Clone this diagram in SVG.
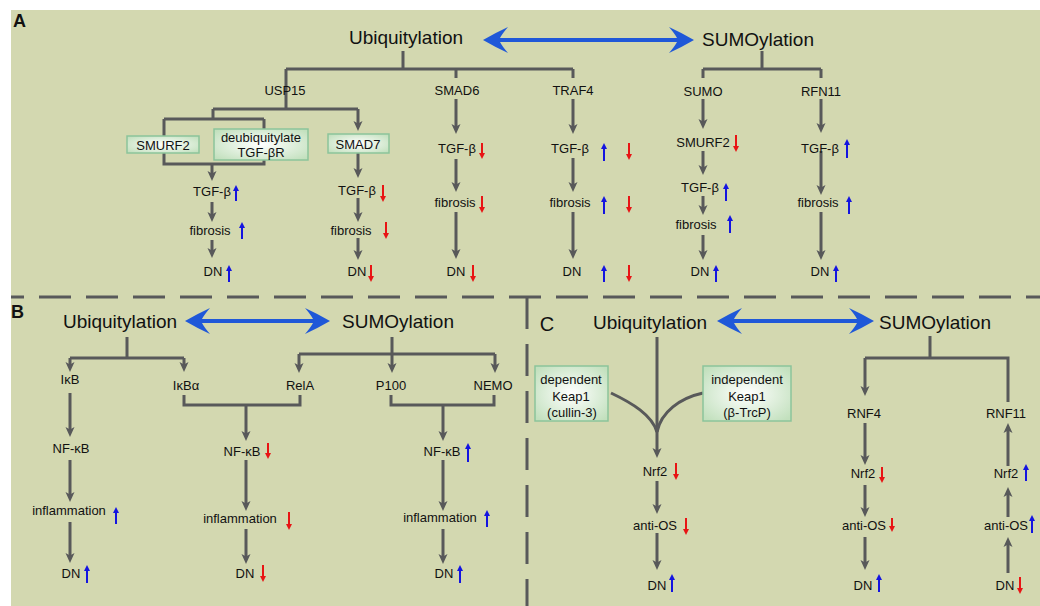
<svg xmlns="http://www.w3.org/2000/svg" width="1040" height="606" viewBox="0 0 1040 606">
<defs>
<style>
.t{font-family:"Liberation Sans",Arial,sans-serif;font-size:13px;fill:#111;text-anchor:middle}
.h{font-family:"Liberation Sans",Arial,sans-serif;font-size:19px;fill:#111;text-anchor:middle}
.lb{font-family:"Liberation Sans",Arial,sans-serif;font-size:18px;font-weight:bold;fill:#111}
.g{stroke:#58595a;stroke-width:3;fill:none}
.a{stroke:#58595a;stroke-width:3;fill:none;marker-end:url(#ah)}
.u{stroke:#1414e0;stroke-width:2;marker-end:url(#ub)}
.d{stroke:#e81414;stroke-width:2;marker-end:url(#dr)}
.bx{fill:url(#gb);stroke:#8cc49a;stroke-width:1.5}
.ba{fill:#1f58d8}
.dash{stroke:#58595a;stroke-width:3;fill:none;stroke-dasharray:32 15}
</style>
<radialGradient id="gb" cx="50%" cy="50%" r="65%">
<stop offset="0" stop-color="#ffffff"/>
<stop offset="1" stop-color="#c2e0bd"/>
</radialGradient>
<marker id="ah" viewBox="0 0 10 10" refX="4" refY="5" markerWidth="10" markerHeight="10" markerUnits="userSpaceOnUse" orient="auto">
<path d="M0,0.5 L10,5 L0,9.5 L2.5,5 Z" fill="#58595a"/>
</marker>
<marker id="ub" viewBox="0 0 6 6" refX="2" refY="3" markerWidth="6" markerHeight="6" markerUnits="userSpaceOnUse" orient="auto">
<path d="M0,0 L6,3 L0,6 Z" fill="#1414e0"/>
</marker>
<marker id="dr" viewBox="0 0 6 6" refX="2" refY="3" markerWidth="6" markerHeight="6" markerUnits="userSpaceOnUse" orient="auto">
<path d="M0,0 L6,3 L0,6 Z" fill="#e81414"/>
</marker>
</defs>
<rect x="0" y="0" width="1040" height="606" fill="#ffffff"/>
<rect x="11" y="10" width="1029" height="596" fill="#d3d8b0"/>

<g id="dividers">
<line class="dash" x1="11" y1="297" x2="1040" y2="297" stroke-dashoffset="19"/>
<line class="dash" x1="527" y1="297" x2="527" y2="606"/>
</g>

<g id="connectors">
<!-- Panel A -->
<path class="ba" d="M483,40 Q495,33 508,27 Q502,34 500,38 H677 Q675,34 669,27 Q682,33 694,40 Q682,47 669,53 Q675,46 677,42 H500 Q502,46 508,53 Q495,47 483,40 Z"/>
<path class="g" d="M403,51 V69 M286,69 H573 M286,69 V109 M456,69 V78 M573,69 V78"/>
<path class="g" d="M213,109 H358 M213,109 V119 M164,119 H264 M164,119 V164 H264 V119"/>
<line class="a" x1="358" y1="109" x2="358" y2="125"/>
<line class="a" x1="212" y1="164" x2="212" y2="175"/>
<line class="a" x1="212" y1="202" x2="212" y2="216"/>
<line class="a" x1="212" y1="240" x2="212" y2="252"/>
<line class="a" x1="358" y1="153" x2="358" y2="172"/>
<line class="a" x1="358" y1="198" x2="358" y2="216"/>
<line class="a" x1="358" y1="238" x2="358" y2="254"/>
<line class="a" x1="456" y1="99" x2="456" y2="128"/>
<line class="a" x1="456" y1="159" x2="456" y2="186"/>
<line class="a" x1="456" y1="212" x2="456" y2="253"/>
<line class="a" x1="573" y1="99" x2="573" y2="128"/>
<line class="a" x1="573" y1="158" x2="573" y2="186"/>
<line class="a" x1="573" y1="212" x2="573" y2="253"/>
<path class="g" d="M762,51 V69 M703,69 H821 M703,69 V78 M821,69 V78"/>
<line class="a" x1="703" y1="99" x2="703" y2="123"/>
<line class="a" x1="703" y1="151" x2="703" y2="169"/>
<line class="a" x1="703" y1="196" x2="703" y2="209"/>
<line class="a" x1="703" y1="235" x2="703" y2="254"/>
<line class="a" x1="821" y1="99" x2="821" y2="127"/>
<line class="a" x1="821" y1="151" x2="821" y2="189"/>
<line class="a" x1="821" y1="212" x2="821" y2="254"/>
<!-- Panel B -->
<path class="ba" d="M185,321 Q197,314 210,308 Q204,315 202,319 H313 Q311,315 305,308 Q318,314 330,321 Q318,328 305,334 Q311,327 313,323 H202 Q204,327 210,334 Q197,328 185,321 Z"/>
<path class="g" d="M127,337 V358 M70,358 H184 M392,337 V354 M299,354 H495"/>
<line class="a" x1="70" y1="358" x2="70" y2="366"/>
<line class="a" x1="184" y1="358" x2="184" y2="366"/>
<line class="a" x1="299" y1="354" x2="299" y2="367"/>
<line class="a" x1="392" y1="354" x2="392" y2="367"/>
<line class="a" x1="495" y1="354" x2="495" y2="367"/>
<path class="g" d="M184,395 V405 H300 V395 M391,395 V405 H494 V395"/>
<line class="a" x1="246" y1="405" x2="246" y2="435"/>
<line class="a" x1="443" y1="405" x2="443" y2="435"/>
<line class="a" x1="70" y1="393" x2="70" y2="431"/>
<line class="a" x1="70" y1="460" x2="70" y2="496"/>
<line class="a" x1="70" y1="522" x2="70" y2="557"/>
<line class="a" x1="246" y1="460" x2="246" y2="505"/>
<line class="a" x1="246" y1="529" x2="246" y2="558"/>
<line class="a" x1="443" y1="460" x2="443" y2="505"/>
<line class="a" x1="443" y1="529" x2="443" y2="558"/>
<!-- Panel C -->
<path class="ba" d="M717,321 Q729,314 742,308 Q736,315 734,319 H857 Q855,315 849,308 Q862,314 874,321 Q862,328 849,334 Q855,327 857,323 H734 Q736,327 742,334 Q729,328 717,321 Z"/>
<line class="a" x1="657" y1="337" x2="657" y2="452"/>
<path class="g" d="M611,393 C632,403 652,415 657,432"/>
<path class="g" d="M703,393 C680,398 661,412 657,432"/>
<line class="a" x1="657" y1="481" x2="657" y2="508"/>
<line class="a" x1="657" y1="533" x2="657" y2="564"/>
<path class="g" d="M930,336 V358 M865,358 H1008 V402"/>
<line class="a" x1="865" y1="358" x2="865" y2="390"/>
<line class="a" x1="865" y1="423" x2="865" y2="459"/>
<line class="a" x1="865" y1="485" x2="865" y2="511"/>
<line class="a" x1="865" y1="537" x2="865" y2="564"/>
<line class="a" x1="1008" y1="466" x2="1008" y2="429"/>
<line class="a" x1="1008" y1="517" x2="1008" y2="493"/>
<line class="a" x1="1008" y1="573" x2="1008" y2="543"/>
</g>

<g id="indicators">
<line class="u" x1="236" y1="201" x2="236" y2="189"/>
<line class="u" x1="242" y1="239" x2="242" y2="226"/>
<line class="u" x1="229" y1="282" x2="229" y2="269"/>
<line class="d" x1="383" y1="185" x2="383" y2="198"/>
<line class="d" x1="386" y1="222" x2="386" y2="235"/>
<line class="d" x1="371" y1="265" x2="371" y2="278"/>
<line class="d" x1="482" y1="143" x2="482" y2="155"/>
<line class="d" x1="482" y1="196" x2="482" y2="209"/>
<line class="d" x1="473" y1="265" x2="473" y2="278"/>
<line class="u" x1="604" y1="161" x2="604" y2="147"/>
<line class="u" x1="604" y1="214" x2="604" y2="200"/>
<line class="u" x1="604" y1="282" x2="604" y2="269"/>
<line class="d" x1="629" y1="143" x2="629" y2="156"/>
<line class="d" x1="629" y1="196" x2="629" y2="209"/>
<line class="d" x1="629" y1="265" x2="629" y2="278"/>
<line class="d" x1="736" y1="135" x2="736" y2="148"/>
<line class="u" x1="726" y1="201" x2="726" y2="187"/>
<line class="u" x1="730" y1="233" x2="730" y2="219"/>
<line class="u" x1="716" y1="282" x2="716" y2="269"/>
<line class="u" x1="847" y1="158" x2="847" y2="143"/>
<line class="u" x1="849" y1="214" x2="849" y2="200"/>
<line class="u" x1="836" y1="282" x2="836" y2="269"/>
<line class="u" x1="116" y1="524" x2="116" y2="511"/>
<line class="u" x1="87" y1="583" x2="87" y2="569"/>
<line class="d" x1="268" y1="443" x2="268" y2="455"/>
<line class="d" x1="289" y1="512" x2="289" y2="526"/>
<line class="d" x1="263" y1="565" x2="263" y2="578"/>
<line class="u" x1="468" y1="462" x2="468" y2="447"/>
<line class="u" x1="487" y1="527" x2="487" y2="514"/>
<line class="u" x1="460" y1="583" x2="460" y2="569"/>
<line class="d" x1="676" y1="463" x2="676" y2="476"/>
<line class="d" x1="686" y1="518" x2="686" y2="531"/>
<line class="u" x1="672" y1="592" x2="672" y2="578"/>
<line class="d" x1="882" y1="467" x2="882" y2="479"/>
<line class="d" x1="892" y1="518" x2="892" y2="528"/>
<line class="u" x1="879" y1="592" x2="879" y2="578"/>
<line class="u" x1="1026" y1="481" x2="1026" y2="468"/>
<line class="u" x1="1032" y1="533" x2="1032" y2="519"/>
<line class="d" x1="1020" y1="577" x2="1020" y2="590"/>
</g>

<g id="panelA-labels">
<text class="lb" x="13" y="27">A</text>
<text class="h" x="406" y="44">Ubiquitylation</text>
<text class="h" x="758" y="46">SUMOylation</text>
<text class="t" x="285" y="95">USP15</text>
<text class="t" x="457" y="95">SMAD6</text>
<text class="t" x="573" y="95">TRAF4</text>
<text class="t" x="703" y="96">SUMO</text>
<text class="t" x="821" y="96">RFN11</text>
</g>
<g id="node-smurf2-box"><rect class="bx" x="127" y="136" width="72" height="17"/><text class="t" x="163" y="150">SMURF2</text></g>
<g id="node-deubiq-box"><rect class="bx" x="214" y="129" width="94" height="31"/><text class="t" x="261" y="142">deubiquitylate</text><text class="t" x="261" y="157">TGF-βR</text></g>
<g id="node-smad7-box"><rect class="bx" x="328" y="134" width="61" height="19"/><text class="t" x="358" y="149">SMAD7</text></g>
<g id="panelA-nodes">
<text class="t" x="212" y="196">TGF-β</text>
<text class="t" x="210" y="235">fibrosis</text>
<text class="t" x="213" y="276">DN</text>
<text class="t" x="357" y="195">TGF-β</text>
<text class="t" x="351" y="235">fibrosis</text>
<text class="t" x="357" y="276">DN</text>
<text class="t" x="457" y="153">TGF-β</text>
<text class="t" x="455" y="207">fibrosis</text>
<text class="t" x="456" y="276">DN</text>
<text class="t" x="570" y="153">TGF-β</text>
<text class="t" x="570" y="207">fibrosis</text>
<text class="t" x="572" y="276">DN</text>
<text class="t" x="703" y="147">SMURF2</text>
<text class="t" x="700" y="192">TGF-β</text>
<text class="t" x="696" y="229">fibrosis</text>
<text class="t" x="700" y="276">DN</text>
<text class="t" x="820" y="153">TGF-β</text>
<text class="t" x="818" y="207">fibrosis</text>
<text class="t" x="820" y="276">DN</text>
</g>

<g id="panelB-nodes">
<text class="lb" x="11" y="318">B</text>
<text class="h" x="120" y="328">Ubiquitylation</text>
<text class="h" x="398" y="328">SUMOylation</text>
<text class="t" x="70" y="384">IκB</text>
<text class="t" x="186" y="390">IκBα</text>
<text class="t" x="300" y="390">RelA</text>
<text class="t" x="391" y="390">P100</text>
<text class="t" x="493" y="390">NEMO</text>
<text class="t" x="71" y="453">NF-κB</text>
<text class="t" x="69" y="515">inflammation</text>
<text class="t" x="71" y="578">DN</text>
<text class="t" x="242" y="456">NF-κB</text>
<text class="t" x="240" y="523">inflammation</text>
<text class="t" x="245" y="578">DN</text>
<text class="t" x="442" y="456">NF-κB</text>
<text class="t" x="440" y="522">inflammation</text>
<text class="t" x="444" y="578">DN</text>
</g>

<g id="panelC-nodes">
<text x="547" y="331" style="font-family:'Liberation Sans',Arial,sans-serif;font-size:20px;fill:#111;text-anchor:middle">C</text>
<text class="h" x="650" y="329">Ubiquitylation</text>
<text class="h" x="935" y="329">SUMOylation</text>
<text class="t" x="864" y="418">RNF4</text>
<text class="t" x="1006" y="418">RNF11</text>
<text class="t" x="655" y="476">Nrf2</text>
<text class="t" x="655" y="530">anti-OS</text>
<text class="t" x="657" y="590">DN</text>
<text class="t" x="863" y="478">Nrf2</text>
<text class="t" x="864" y="530">anti-OS</text>
<text class="t" x="863" y="590">DN</text>
<text class="t" x="1006" y="478">Nrf2</text>
<text class="t" x="1006" y="530">anti-OS</text>
<text class="t" x="1005" y="590">DN</text>
</g>
<g id="node-dependent-keap1"><rect class="bx" x="535" y="366" width="73" height="55"/><text class="t" x="571" y="384">dependent</text><text class="t" x="571" y="401">Keap1</text><text class="t" x="572" y="417">(cullin-3)</text></g>
<g id="node-independent-keap1"><rect class="bx" x="703" y="366" width="88" height="55"/><text class="t" x="747" y="384">independent</text><text class="t" x="747" y="401">Keap1</text><text class="t" x="747" y="417">(β-TrcP)</text></g>
</svg>
